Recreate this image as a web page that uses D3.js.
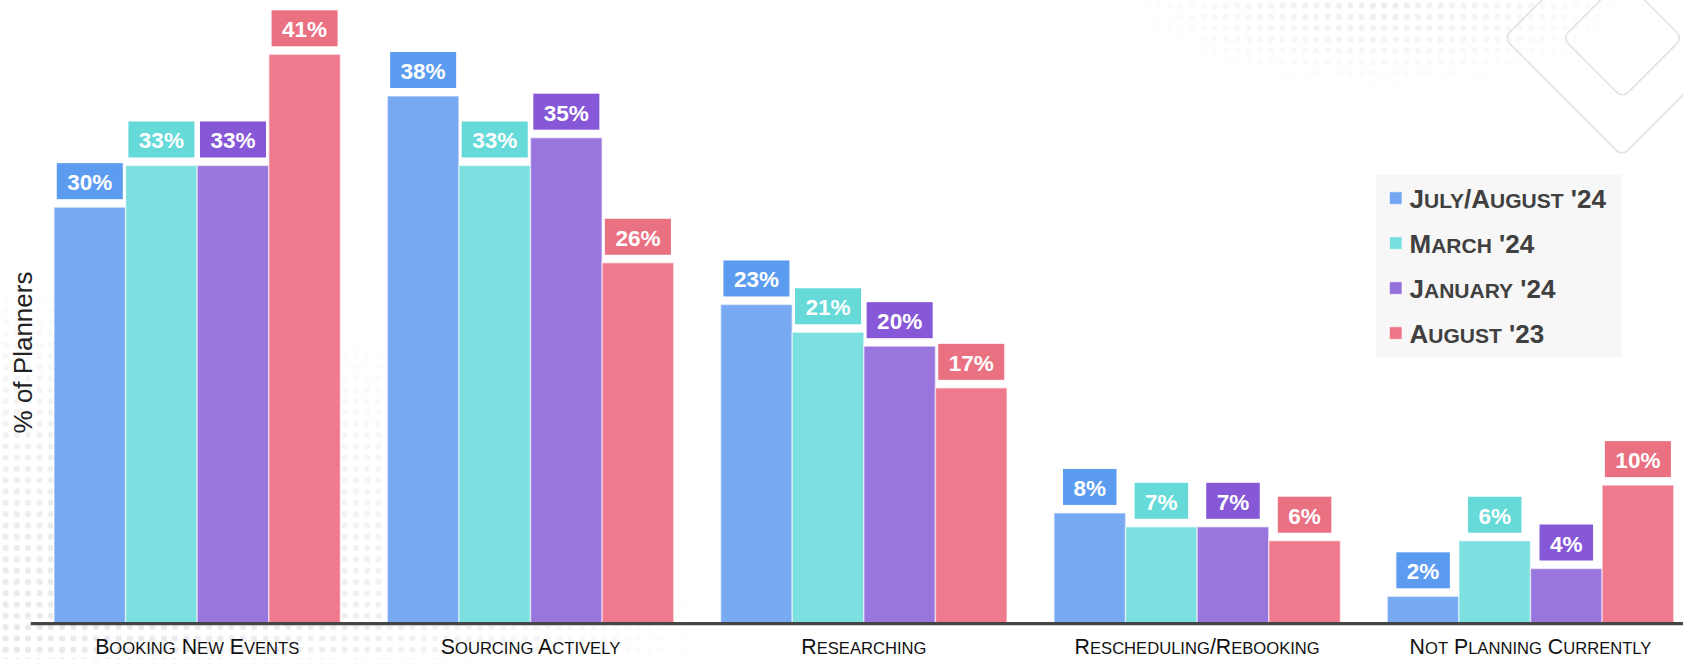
<!DOCTYPE html>
<html>
<head>
<meta charset="utf-8">
<script src="https://cdn.jsdelivr.net/npm/d3@7"></script>
<style>
  html, body { margin: 0; padding: 0; background: #ffffff; }
  svg { display: block; }
</style>
</head>
<body>
<div id="chart"></div>
<script>
// ---- data ----
const categories = ["Booking New Events", "Sourcing Actively", "Researching", "Rescheduling/Rebooking", "Not Planning Currently"];
const seriesNames = ["July/August '24", "March '24", "January '24", "August '23"];
const julyAugust24 = [30, 38, 23, 8, 2];
const march24 = [33, 33, 21, 7, 6];
const january24 = [33, 35, 20, 7, 4];
const august23 = [41, 26, 17, 6, 10];
const yAxisTitle = "% of Planners";

const seriesValues = [julyAugust24, march24, january24, august23];
const barColors = ["#73a6f2", "#78dfdf", "#9470dd", "#ee7588"];
const boxColors = ["#5c9cf0", "#66dad9", "#8658d8", "#ea7182"];

const W = 1683, H = 659;
const svg = d3.select("#chart").append("svg").attr("width", W).attr("height", H);

// ---- background decoration ----
const defs = svg.append("defs");
const pat = defs.append("pattern").attr("id", "dots").attr("patternUnits", "userSpaceOnUse")
  .attr("width", 11.3).attr("height", 11.3);
pat.append("circle").attr("cx", 5.6).attr("cy", 5.6).attr("r", 3).attr("fill", "#e7e7ec");
const rg1 = defs.append("radialGradient").attr("id", "fade1").attr("gradientUnits", "userSpaceOnUse")
  .attr("cx", 0).attr("cy", 659).attr("r", 720).attr("gradientTransform", "translate(0,659) scale(1,0.55) translate(0,-659)");
rg1.append("stop").attr("offset", 0).attr("stop-color", "#fff").attr("stop-opacity", 1);
rg1.append("stop").attr("offset", 0.55).attr("stop-color", "#fff").attr("stop-opacity", 0.6);
rg1.append("stop").attr("offset", 1).attr("stop-color", "#fff").attr("stop-opacity", 0);
const rg2 = defs.append("radialGradient").attr("id", "fade2").attr("gradientUnits", "userSpaceOnUse")
  .attr("cx", 1380).attr("cy", 0).attr("r", 260).attr("gradientTransform", "translate(1380,0) scale(1,0.35) translate(-1380,0)");
rg2.append("stop").attr("offset", 0).attr("stop-color", "#fff").attr("stop-opacity", 0.8);
rg2.append("stop").attr("offset", 1).attr("stop-color", "#fff").attr("stop-opacity", 0);
const mask = defs.append("mask").attr("id", "dotmask");
mask.append("rect").attr("width", W).attr("height", H).attr("fill", "url(#fade1)");
mask.append("rect").attr("width", W).attr("height", H).attr("fill", "url(#fade2)");
svg.append("rect").attr("width", W).attr("height", H).attr("fill", "url(#dots)").attr("mask", "url(#dotmask)");

// diamonds top-right
[[1622, 38, 118], [1622.5, 38, 60]].forEach(([cx, cy, hd]) => {
  const s = hd * Math.SQRT2;
  svg.append("rect").attr("x", -s / 2).attr("y", -s / 2).attr("width", s).attr("height", s)
    .attr("rx", 8).attr("fill", "none").attr("stroke", "#e3e3e6").attr("stroke-width", 1.6)
    .attr("transform", `translate(${cx},${cy}) rotate(45)`);
});

// ---- scales ----
const x0 = d3.scaleBand().domain(categories).range([54, 1673.7]).paddingInner(0.1408).paddingOuter(0);
const x1 = d3.scaleBand().domain(seriesNames).range([0, x0.bandwidth()]).padding(0);
const y = d3.scaleLinear().domain([0, 41]).range([624.1, 54.3]);

// ---- bars ----
const groups = svg.append("g").selectAll("g").data(categories).join("g")
  .attr("transform", d => `translate(${x0(d)},0)`);

groups.each(function (cat, ci) {
  const g = d3.select(this);
  seriesNames.forEach((s, si) => {
    const v = seriesValues[si][ci];
    g.append("rect")
      .attr("x", x1(s)).attr("y", y(v))
      .attr("width", x1.bandwidth()).attr("height", y(0) - y(v))
      .attr("fill", barColors[si]).attr("fill-opacity", 0.96)
      .attr("stroke", "rgba(255,255,255,0.5)").attr("stroke-width", 1.5);
  });
});

// axis line
const xAxis = d3.axisBottom(x0).tickSize(0).tickFormat("");
svg.append("g").attr("transform", "translate(0,623.7)").call(xAxis)
  .call(g => g.select(".domain").remove());
svg.append("line").attr("x1", 30.7).attr("x2", W).attr("y1", 623.7).attr("y2", 623.7)
  .attr("stroke", "#454545").attr("stroke-width", 3.3);

// ---- data labels ----
const labelFont = "'Liberation Sans', Arial, sans-serif";
groups.each(function (cat, ci) {
  const g = d3.select(this);
  seriesNames.forEach((s, si) => {
    const v = seriesValues[si][ci];
    const cx = x1(s) + x1.bandwidth() / 2;
    const bottom = y(v) - 8;
    const lg = g.append("g");
    const box = lg.append("rect").attr("fill", boxColors[si]);
    const t = lg.append("text").attr("x", cx).attr("y", bottom - 18 + 9)
      .attr("text-anchor", "middle").attr("fill", "#fff")
      .attr("font-family", labelFont).attr("font-weight", "bold").attr("font-size", 22.5)
      .text(v + "%");
    const tw = t.node().getComputedTextLength();
    const bw = tw + 21;
    box.attr("x", cx - bw / 2).attr("y", bottom - 36).attr("width", bw).attr("height", 36);
  });
});

// ---- small caps helper ----
function smallCaps(textSel, str, big, small) {
  const runs = [];
  for (const ch of str) {
    const lower = ch !== ch.toUpperCase();
    if (runs.length && runs[runs.length - 1].lower === lower) runs[runs.length - 1].s += ch;
    else runs.push({ lower, s: ch });
  }
  runs.forEach(r => textSel.append("tspan").attr("font-size", r.lower ? small : big).text(r.s.toUpperCase()));
}

// ---- category labels ----
categories.forEach(c => {
  const t = svg.append("text")
    .attr("x", x0(c) + x0.bandwidth() / 2).attr("y", 654)
    .attr("text-anchor", "middle").attr("fill", "#111")
    .attr("font-family", labelFont).style("white-space", "pre");
  smallCaps(t, c, 21.3, 16.6);
});

// ---- y axis title ----
svg.append("text").attr("transform", "translate(32,352.5) rotate(-90)")
  .attr("text-anchor", "middle").attr("fill", "#222")
  .attr("font-family", labelFont).attr("font-size", 26).text(yAxisTitle);

// ---- legend ----
const legend = svg.append("g");
legend.append("rect").attr("x", 1376).attr("y", 175).attr("width", 246).attr("height", 182).attr("fill", "#f7f7f7");
seriesNames.forEach((s, i) => {
  const by = 208.3 + i * 45;
  legend.append("rect").attr("x", 1389.5).attr("y", by - 16.5).attr("width", 12.5).attr("height", 12.5)
    .attr("fill", barColors[i]).attr("stroke", "rgba(255,255,255,0.6)").attr("stroke-width", 1);
  const t = legend.append("text").attr("x", 1409.5).attr("y", by)
    .attr("fill", "#404040").attr("font-family", labelFont).attr("font-weight", "bold")
    .style("white-space", "pre");
  smallCaps(t, s, 26, 21);
});
</script>
</body>
</html>
